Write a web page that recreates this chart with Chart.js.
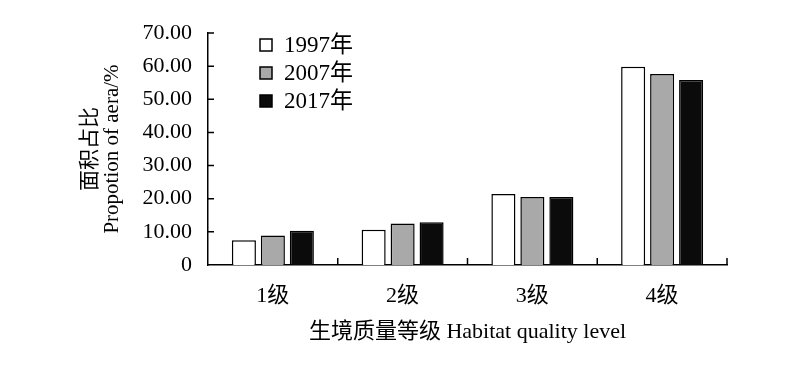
<!DOCTYPE html>
<html>
<head>
<meta charset="utf-8">
<script src="https://cdn.jsdelivr.net/npm/chart.js@4.4.1/dist/chart.umd.min.js"></script>
<style>
    body { margin: 0; background: #fff; }
    canvas { display: block; }
</style>
</head>
<body>
<canvas id="myChart" width="800" height="366"></canvas>
<script>
const levels = ['1级', '2级', '3级', '4级'];
const seriesNames = ['1997年', '2007年', '2017年'];
const values1997 = [7.5, 10.6, 21.4, 59.8];
const values2007 = [8.9, 12.5, 20.5, 57.6];
const values2017 = [10.3, 12.9, 20.5, 55.8];
const yTicks = [0, 10, 20, 30, 40, 50, 60, 70];

const serif = "'Liberation Serif', 'Times New Roman', 'Noto Sans CJK SC', serif";

// legend drawn inside the plot, top left
const innerLegend = {
    id: 'innerLegend',
    afterDraw(chart) {
        const ctx = chart.ctx;
        const area = chart.chartArea;
        ctx.save();
        ctx.font = '23px ' + serif;
        ctx.textBaseline = 'middle';
        chart.data.datasets.forEach((ds, i) => {
            let y = area.top + 12 + i * 28;
            let x = area.left + 52;
            ctx.fillStyle = ds.backgroundColor;
            ctx.fillRect(x, y - 6, 12, 12);
            ctx.strokeStyle = '#000';
            ctx.lineWidth = 1.5;
            ctx.strokeRect(x, y - 6, 12, 12);
            ctx.fillStyle = '#000';
            ctx.fillText(ds.label, x + 24, y + 1);
        });
        ctx.restore();
    }
};

// tick marks pointing into the plot
const innerTicks = {
    id: 'innerTicks',
    afterDraw(chart) {
        const ctx = chart.ctx;
        const xs = chart.scales.x;
        const ys = chart.scales.y;
        ctx.save();
        ctx.strokeStyle = '#000';
        ctx.lineWidth = 1.5;
        ctx.beginPath();
        yTicks.forEach(v => {
            if (v === 0) return;
            let py = ys.getPixelForValue(v);
            ctx.moveTo(ys.right, py);
            ctx.lineTo(ys.right + 6, py);
        });
        for (let i = 0; i < levels.length; i++) {
            let px = xs.getPixelForValue(i + 0.5);
            ctx.moveTo(px, xs.top);
            ctx.lineTo(px, xs.top - 7);
        }
        ctx.stroke();
        ctx.restore();
    }
};

const ctx = document.getElementById('myChart').getContext('2d');
const chart = new Chart(ctx, {
    type: 'bar',
    data: {
        labels: levels,
        datasets: [
            { label: seriesNames[0], data: values1997, backgroundColor: '#ffffff' },
            { label: seriesNames[1], data: values2007, backgroundColor: '#a9a9a9' },
            { label: seriesNames[2], data: values2017, backgroundColor: '#0b0b0b' }
        ]
    },
    options: {
        responsive: false,
        animation: false,
        layout: { padding: { top: 33, right: 73, left: 0, bottom: 0 } },
        datasets: {
            bar: {
                borderColor: '#000',
                borderWidth: 1.5,
                categoryPercentage: 0.67,
                barPercentage: 0.83
            }
        },
        plugins: {
            legend: { display: false },
            tooltip: { enabled: false }
        },
        scales: {
            x: {
                grid: { display: false, drawTicks: false },
                border: { color: '#000', width: 1.5 },
                ticks: {
                    color: '#000',
                    padding: 18,
                    font: { family: serif, size: 22 }
                },
                title: {
                    display: true,
                    text: '生境质量等级 Habitat quality level',
                    color: '#000',
                    font: { family: serif, size: 22, lineHeight: 1.05 },
                    padding: { top: 0, bottom: 22 }
                },
                afterFit(scale) { scale.height = 101; }
            },
            y: {
                min: 0,
                max: 70,
                grid: { display: false, drawTicks: false },
                border: { color: '#000', width: 1.5 },
                ticks: {
                    stepSize: 10,
                    color: '#000',
                    padding: 16,
                    font: { family: serif, size: 22 },
                    callback: v => v === 0 ? '0' : v.toFixed(2)
                },
                title: {
                    display: true,
                    text: ['面积占比', 'Propotion of aera/%'],
                    color: '#000',
                    font: { family: serif, size: 21, lineHeight: 1.05 },
                    padding: { top: 79, bottom: 0 }
                },
                afterFit(scale) { scale.width = 208; }
            }
        }
    },
    plugins: [innerLegend, innerTicks]
});
</script>
</body>
</html>
